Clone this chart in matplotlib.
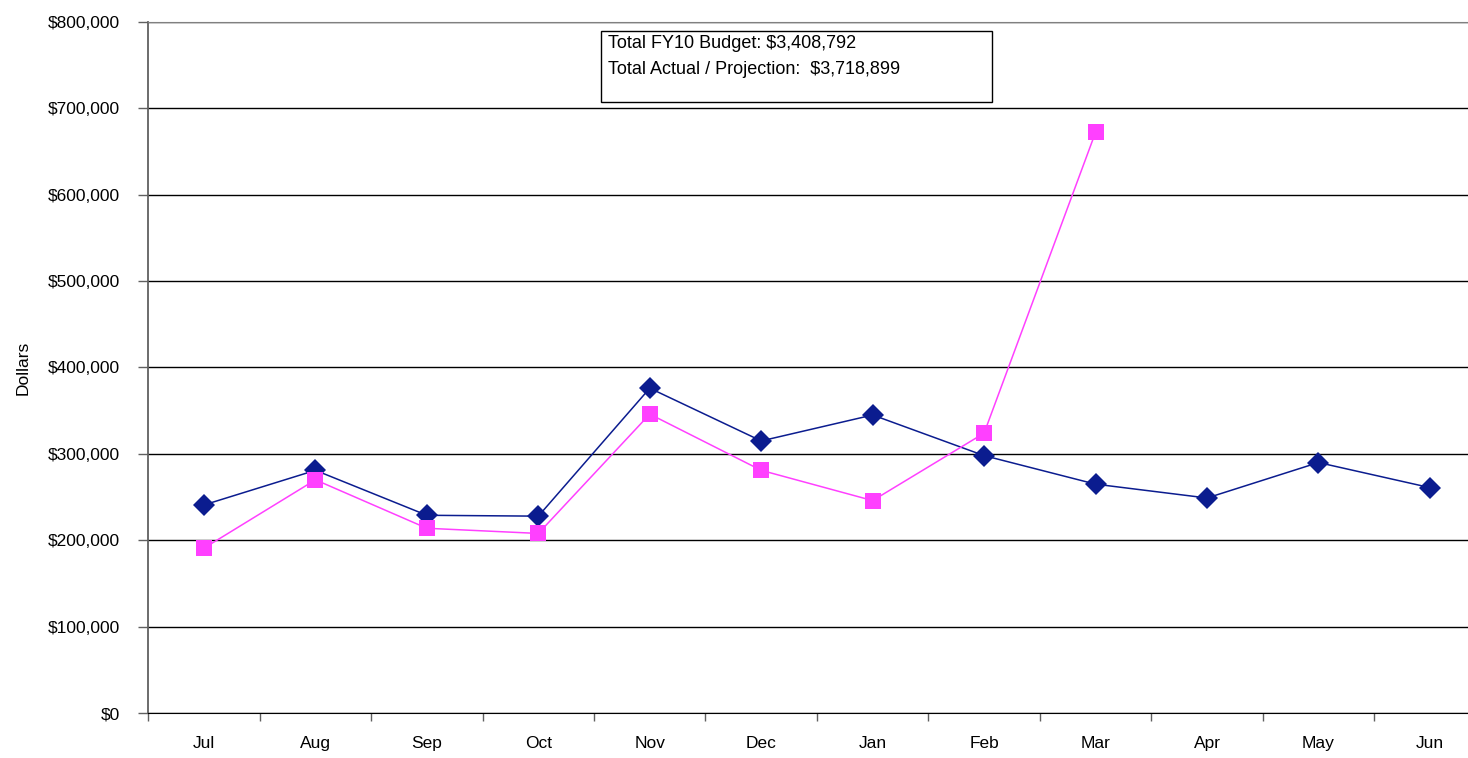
import numpy as np
import matplotlib.pyplot as plt
from matplotlib.ticker import FuncFormatter, FixedLocator
from matplotlib.patches import Rectangle

plt.rcParams['font.family'] = ['Liberation Sans', 'DejaVu Sans']

months = ["Jul", "Aug", "Sep", "Oct", "Nov", "Dec",
          "Jan", "Feb", "Mar", "Apr", "May", "Jun"]
budget = [241000, 281000, 229000, 228000, 376000, 315000,
          345000, 298000, 265000, 249000, 290000, 261000]
actual = [191000, 270000, 214000, 208000, 346000, 281000,
          246000, 324000, 672000]
box_lines = ["Total FY10 Budget: $3,408,792",
             "Total Actual / Projection:  $3,718,899"]

fig = plt.figure(figsize=(14.68, 7.58), dpi=100)
ax = fig.add_axes([0.101, 0.059, 0.911, 0.9125])

x = np.arange(len(months))
ax.plot(x, budget, color='#0B1C8F', lw=1.1, marker='D', ms=11,
        mew=0, zorder=3)
ax.plot(x[:len(actual)], actual, color='#FF40FF', lw=1.1, marker='s', ms=12,
        mew=0, zorder=4)

ax.set_xlim(-0.5, 11.5)
ax.set_ylim(0, 800000)
ax.set_yticks(np.arange(0, 800001, 100000))
ax.yaxis.set_major_formatter(FuncFormatter(lambda v, p: f"${v:,.0f}"))
ax.set_xticks(x)
ax.set_xticklabels(months)
ax.xaxis.set_minor_locator(FixedLocator(np.arange(-0.5, 12, 1)))
ax.tick_params(axis='x', which='major', length=0, pad=16, labelsize=12.5)
ax.tick_params(axis='x', which='minor', length=6, color='#606060', width=1)
ax.tick_params(axis='y', length=7, color='#606060', width=1, pad=13.5,
               labelsize=12.5)

ax.grid(axis='y', color='black', lw=1)
ax.set_axisbelow(True)
ax.spines['right'].set_visible(False)
ax.spines['top'].set_color('#808080')
ax.spines['left'].set_color('#606060')
ax.spines['left'].set_linewidth(1.3)
ax.spines['bottom'].set_color('black')

ax.set_ylabel("Dollars", fontsize=12.5)
ax.yaxis.set_label_coords(-0.088, 0.5)

# text box
fig.patches.append(Rectangle((601 / 1468, 1 - 102 / 758), 391 / 1468, 71 / 758,
                             transform=fig.transFigure, fill=False,
                             edgecolor='black', lw=1))
fig.text(608 / 1468, 1 - 44 / 758, box_lines[0], fontsize=13, va='center')
fig.text(608 / 1468, 1 - 69 / 758, box_lines[1], fontsize=13, va='center')

fig.savefig("out.png", dpi=100)
